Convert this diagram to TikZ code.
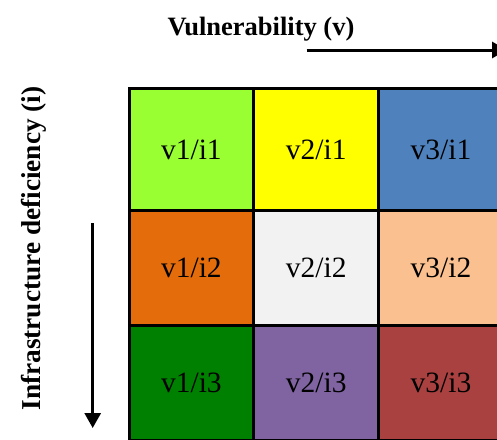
\documentclass[tikz,border=0pt]{standalone}
\usepackage{fontspec}
\setmainfont{Liberation Serif}
\usetikzlibrary{arrows.meta}
\definecolor{cLime}{HTML}{99FF33}
\definecolor{cYellow}{HTML}{FFFF00}
\definecolor{cBlue}{HTML}{4F81BD}
\definecolor{cOrange}{HTML}{E46C0A}
\definecolor{cGrey}{HTML}{F2F2F2}
\definecolor{cPeach}{HTML}{FAC090}
\definecolor{cGreen}{HTML}{008000}
\definecolor{cPurple}{HTML}{8064A2}
\definecolor{cRed}{HTML}{AA4141}

\begin{document}
\begin{tikzpicture}[x=1pt,y=-1pt, inner sep=0pt,
  cell/.style={draw=black,line width=3pt,minimum width=124.8pt,font=\fontsize{29.5}{34}\selectfont},
  lab/.style={font=\bfseries\fontsize{26.5}{30}\selectfont,anchor=base},
  axis/.style={line width=3pt,-{Triangle[width=16pt,length=15pt]}}]
\useasboundingbox (0,0) rectangle (497,439);
% row 1
\node (11) at (191.4,149.8) [cell,minimum height=121.9pt,fill=cLime] {v1/i1};
\node (21) at (316.2,149.8) [cell,minimum height=121.9pt,fill=cYellow] {v2/i1};
\node (31) at (441.0,149.8) [cell,minimum height=121.9pt,fill=cBlue] {v3/i1};
% row 2
\node (12) at (191.4,268.2) [cell,minimum height=115pt,fill=cOrange] {v1/i2};
\node (22) at (316.2,268.2) [cell,minimum height=115pt,fill=cGrey] {v2/i2};
\node (32) at (441.0,268.2) [cell,minimum height=115pt,fill=cPeach] {v3/i2};
% row 3
\node (13) at (191.4,383.2) [cell,minimum height=115pt,fill=cGreen] {v1/i3};
\node (23) at (316.2,383.2) [cell,minimum height=115pt,fill=cPurple] {v2/i3};
\node (33) at (441.0,383.2) [cell,minimum height=115pt,fill=cRed] {v3/i3};
% axes
\node (vlab) at (261,35.5) [lab] {Vulnerability (v)};
\node (ilab) at (40,248.5) [lab,rotate=90,font=\bfseries\fontsize{27.3}{30}\selectfont] {Infrastructure deficiency (i)};
\coordinate (v0) at (306.7,50);
\coordinate (v1) at (507,50);
\coordinate (i0) at (92.7,223);
\coordinate (i1) at (92.7,428);
\draw[axis] (v0) -- (v1);
\draw[axis] (i0) -- (i1);
\end{tikzpicture}
\end{document}
